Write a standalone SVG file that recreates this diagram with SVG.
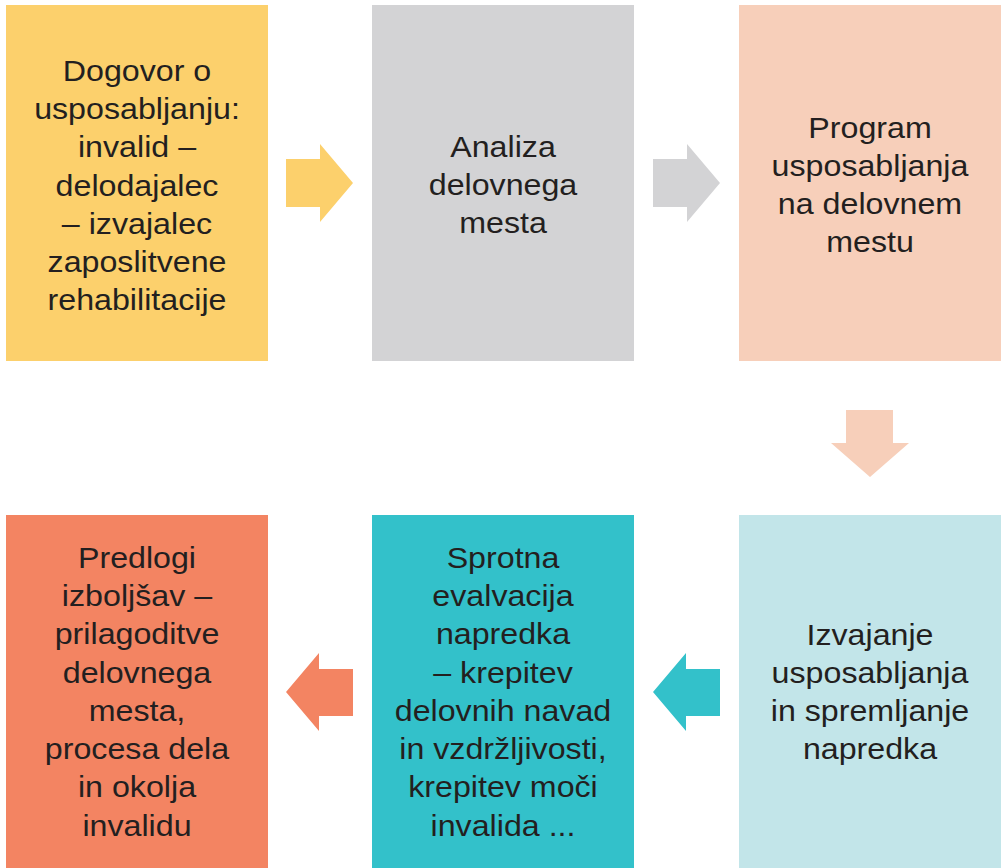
<svg xmlns="http://www.w3.org/2000/svg" width="1001" height="868" viewBox="0 0 1001 868">
<style>
text{font-family:"Liberation Sans",Arial,sans-serif;font-size:29px;fill:#231F20;text-anchor:middle}
</style>
<rect width="1001" height="868" fill="#fff"/>
<g id="connectors">
<polygon points="286,159 320,159 320,144 353,183 320,222 320,207 286,207" fill="#FCD06C"/>
<polygon points="653,159 687,159 687,144 720,183 687,222 687,207 653,207" fill="#D3D3D5"/>
<polygon points="846,410 893,410 893,443 909,443 870,477 831,443 846,443" fill="#F7CFBA"/>
<polygon points="720,669 686,669 686,653 653,692 686,731 686,716 720,716" fill="#33C1CA"/>
<polygon points="353,669 319,669 319,653 286,692 319,731 319,716 353,716" fill="#F38462"/>
</g>
<g id="n1">
<rect x="6" y="5" width="262" height="356" fill="#FCD06C"/>
<g transform="translate(137 0) scale(1.11 1)">
<text x="0" y="81">Dogovor o</text>
<text x="0" y="119">usposabljanju:</text>
<text x="0" y="157">invalid –</text>
<text x="0" y="196">delodajalec</text>
<text x="0" y="234">– izvajalec</text>
<text x="0" y="272">zaposlitvene</text>
<text x="0" y="310">rehabilitacije</text>
</g>
</g>
<g id="n2">
<rect x="372" y="5" width="262" height="356" fill="#D3D3D5"/>
<g transform="translate(503 0) scale(1.11 1)">
<text x="0" y="157">Analiza</text>
<text x="0" y="195">delovnega</text>
<text x="0" y="233">mesta</text>
</g>
</g>
<g id="n3">
<rect x="739" y="5" width="262" height="356" fill="#F7CFBA"/>
<g transform="translate(870 0) scale(1.11 1)">
<text x="0" y="138">Program</text>
<text x="0" y="176">usposabljanja</text>
<text x="0" y="214">na delovnem</text>
<text x="0" y="252">mestu</text>
</g>
</g>
<g id="n4">
<rect x="739" y="515" width="262" height="353" fill="#C2E5E9"/>
<g transform="translate(870 0) scale(1.11 1)">
<text x="0" y="645">Izvajanje</text>
<text x="0" y="683">usposabljanja</text>
<text x="0" y="721">in spremljanje</text>
<text x="0" y="759">napredka</text>
</g>
</g>
<g id="n5">
<rect x="372" y="515" width="262" height="353" fill="#33C1CA"/>
<g transform="translate(503 0) scale(1.11 1)">
<text x="0" y="568">Sprotna</text>
<text x="0" y="606">evalvacija</text>
<text x="0" y="644">napredka</text>
<text x="0" y="683">– krepitev</text>
<text x="0" y="721">delovnih navad</text>
<text x="0" y="759">in vzdržljivosti,</text>
<text x="0" y="797">krepitev moči</text>
<text x="0" y="836">invalida ...</text>
</g>
</g>
<g id="n6">
<rect x="6" y="515" width="262" height="353" fill="#F38462"/>
<g transform="translate(137 0) scale(1.11 1)">
<text x="0" y="568">Predlogi</text>
<text x="0" y="606">izboljšav –</text>
<text x="0" y="644">prilagoditve</text>
<text x="0" y="683">delovnega</text>
<text x="0" y="721">mesta,</text>
<text x="0" y="759">procesa dela</text>
<text x="0" y="797">in okolja</text>
<text x="0" y="836">invalidu</text>
</g>
</g>
</svg>
